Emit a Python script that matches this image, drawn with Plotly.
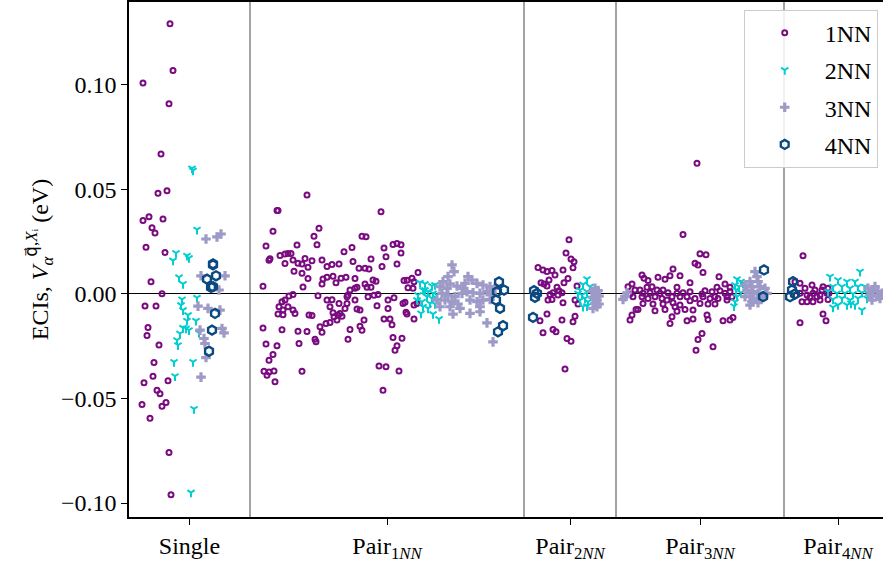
import plotly.graph_objects as go

# ---------------- data ----------------
categories = ["Single", "Pair<sub>1<i>NN</i></sub>", "Pair<sub>2<i>NN</i></sub>",
              "Pair<sub>3<i>NN</i></sub>", "Pair<sub>4<i>NN</i></sub>"]
group_edges = [0, 121, 395, 487, 655, 763]   # ECI index boundaries of each group
series_names = ["1NN", "2NN", "3NN", "4NN"]

# (ECI index, value in eV)
eci_1nn = [
    # Single
    (41, 0.1293), (44, 0.1069), (14, 0.1010), (40, 0.0910), (32, 0.0670), (29, 0.0482), (38, 0.0494),
    (14, 0.0351), (20, 0.0369), (34, 0.0359), (23, 0.0317), (26, 0.0292), (17, 0.0224), (36, 0.0198),
    (22, 0.0058), (33, 0.0001), (16, -0.0058), (27, -0.0058), (19, -0.0160), (18, -0.0199), (30, -0.0244),
    (25, -0.0328), (24, -0.0393), (15, -0.0425), (39, -0.0415), (28, -0.0460), (31, -0.0477), (13, -0.0529),
    (37, -0.0519), (33, -0.0537), (21, -0.0595), (40, -0.0758), (42, -0.0960),
    # Pair 1NN
    (178, 0.0474), (148, 0.0399), (149, 0.0399), (252, 0.0393), (144, 0.0300), (190, 0.0314), (185, 0.0276),
    (188, 0.0236), (233, 0.0276), (237, 0.0274), (137, 0.0229), (168, 0.0234), (264, 0.0237), (268, 0.0242),
    (272, 0.0236), (255, 0.0220), (215, 0.0202), (223, 0.0223), (272, 0.0196), (151, 0.0184), (156, 0.0191),
    (159, 0.0194), (162, 0.0194), (141, 0.0168), (140, 0.0162), (164, 0.0163), (169, 0.0147), (173, 0.0144),
    (176, 0.0170), (183, 0.0159), (179, 0.0128), (193, 0.0163), (198, 0.0131), (203, 0.0141), (210, 0.0143),
    (224, 0.0155), (242, 0.0167), (257, 0.0178), (268, 0.0144), (253, 0.0131), (230, 0.0123), (236, 0.0123),
    (240, 0.0120), (156, 0.0146), (165, 0.0109), (173, 0.0099), (179, 0.0074), (194, 0.0072), (198, 0.0080),
    (204, 0.0085), (212, 0.0075), (217, 0.0080), (226, 0.0074), (244, 0.0067), (247, 0.0061), (289, 0.0103),
    (275, 0.0064), (278, 0.0066), (283, 0.0075), (285, 0.0059), (134, 0.0037), (174, 0.0034), (193, 0.0048),
    (207, 0.0054), (189, -0.0008), (236, 0.0048), (238, 0.0032), (242, 0.0032), (221, 0.0019), (226, 0.0027),
    (228, 0.0032), (219, -0.0005), (218, -0.0013), (198, -0.0029), (203, -0.0027), (210, -0.0045),
    (218, -0.0045), (226, -0.0029), (239, -0.0013), (245, -0.0006), (249, -0.0003), (259, -0.0029),
    (265, -0.0018), (274, -0.0045), (276, -0.0040), (279, 0.0030), (284, 0.0027), (153, -0.0037),
    (156, -0.0029), (160, -0.0010), (164, -0.0003), (150, -0.0061), (154, -0.0077), (159, -0.0061),
    (164, -0.0077), (166, -0.0093), (201, -0.0061), (216, -0.0069), (211, -0.0093), (204, -0.0090),
    (209, -0.0101), (205, -0.0109), (228, -0.0072), (231, -0.0077), (248, -0.0056), (259, -0.0069),
    (277, -0.0087), (278, -0.0096), (285, -0.0053), (288, -0.0046), (149, -0.0096), (154, -0.0099),
    (180, -0.0101), (183, -0.0103), (208, -0.0125), (213, -0.0106), (235, -0.0125), (255, -0.0120),
    (261, -0.0120), (263, -0.0147), (285, -0.0120), (134, -0.0163), (153, -0.0171), (169, -0.0178),
    (178, -0.0179), (191, -0.0157), (193, -0.0183), (197, -0.0141), (201, -0.0136), (221, -0.0170),
    (231, -0.0154), (233, -0.0173), (264, -0.0208), (273, -0.0212), (219, -0.0216), (186, -0.0216),
    (187, -0.0229), (137, -0.0239), (148, -0.0248), (170, -0.0237), (268, -0.0248), (266, -0.0269),
    (144, -0.0290), (140, -0.0317), (135, -0.0370), (138, -0.0389), (140, -0.0373), (145, -0.0369),
    (173, -0.0370), (146, -0.0420), (250, -0.0345), (257, -0.0348), (270, -0.0369), (254, -0.0460),
    # Pair 2NN
    (440, 0.0260), (437, 0.0196), (442, 0.0167), (445, 0.0154), (444, 0.0125), (409, 0.0127), (414, 0.0115),
    (418, 0.0107), (423, 0.0112), (434, 0.0115), (426, 0.0091), (420, 0.0067), (439, 0.0074), (435, 0.0054),
    (412, 0.0054), (415, 0.0048), (418, 0.0038), (428, 0.0032), (430, 0.0016), (433, 0.0006), (424, 0.0006),
    (421, -0.0003), (419, -0.0029), (423, -0.0026), (429, -0.0005), (448, 0.0038), (446, -0.0029),
    (449, -0.0048), (434, -0.0042), (418, -0.0096), (411, -0.0128), (433, -0.0125), (446, -0.0106),
    (444, -0.0133), (414, -0.0186), (424, -0.0170), (427, -0.0181), (438, -0.0213), (442, -0.0226),
    (436, -0.0359),
    # Pair 3NN
    (568, 0.0625), (554, 0.0285), (571, 0.0192), (577, 0.0188), (566, 0.0147), (569, 0.0139), (574, 0.0103),
    (544, 0.0119), (551, 0.0087), (513, 0.0091), (515, 0.0075), (519, 0.0064), (529, 0.0080), (536, 0.0071),
    (541, 0.0087), (561, 0.0054), (548, 0.0032), (590, 0.0083), (596, 0.0048), (588, 0.0032), (601, 0.0032),
    (503, 0.0048), (499, 0.0035), (506, 0.0019), (511, 0.0019), (518, 0.0032), (523, 0.0035), (528, 0.0019),
    (534, 0.0019), (539, 0.0006), (548, 0.0003), (554, 0.0006), (561, 0.0011), (576, 0.0016), (583, 0.0011),
    (591, 0.0016), (596, 0.0003), (601, 0.0011), (504, -0.0013), (513, -0.0013), (519, -0.0021),
    (526, -0.0013), (533, -0.0021), (538, -0.0029), (543, -0.0013), (551, -0.0013), (558, -0.0013),
    (566, -0.0021), (574, -0.0013), (581, -0.0021), (589, -0.0021), (598, -0.0013), (603, -0.0013),
    (514, -0.0045), (524, -0.0048), (534, -0.0048), (544, -0.0042), (551, -0.0053), (561, -0.0032),
    (571, -0.0045), (579, -0.0048), (586, -0.0048), (509, -0.0074), (526, -0.0080), (536, -0.0074),
    (548, -0.0083), (556, -0.0074), (564, -0.0077), (578, -0.0101), (543, -0.0109), (541, -0.0141),
    (558, -0.0128), (564, -0.0120), (579, -0.0122), (594, -0.0128), (601, -0.0125), (604, -0.0112),
    (501, -0.0125), (503, -0.0101), (507, -0.0074), (573, -0.0189), (569, -0.0218), (567, -0.0269),
    (584, -0.0253), (501, 0.0000), (514, 0.0003), (521, 0.0006), (531, 0.0003), (573, 0.0000),
    (586, -0.0013), (598, -0.0029), (546, -0.0061),
    # Pair 4NN
    (674, 0.0183), (666, 0.0059), (671, 0.0051), (676, 0.0027), (683, 0.0043), (686, 0.0019), (693, 0.0019),
    (694, 0.0035), (699, 0.0027), (671, 0.0003), (678, -0.0005), (684, 0.0003), (691, -0.0005), (698, 0.0003),
    (673, -0.0037), (678, -0.0037), (684, -0.0037), (691, -0.0029), (699, -0.0026), (700, 0.0003),
    (694, -0.0096), (697, -0.0128), (671, -0.0138), (681, -0.0013), (688, -0.0013),
]

eci_2nn = [
    # Single
    (63, 0.0601), (64, 0.0591), (68, 0.0308), (47, 0.0196), (44, 0.0160), (58, 0.0183), (60, 0.0172),
    (50, 0.0080), (54, 0.0048), (53, -0.0026), (68, -0.0018), (52, -0.0053), (54, -0.0077), (59, -0.0101),
    (58, -0.0128), (67, -0.0128), (54, -0.0162), (57, -0.0165), (60, -0.0173), (51, -0.0189), (48, -0.0221),
    (49, -0.0245), (70, -0.0186), (45, -0.0325), (64, -0.0325), (46, -0.0393), (65, -0.0550), (62, -0.0950),
    # Pair 1NN
    (291, 0.0054), (296, 0.0048), (303, 0.0038), (306, 0.0043), (294, 0.0019), (299, 0.0011), (304, 0.0003),
    (289, -0.0005), (298, -0.0013), (303, -0.0021), (308, -0.0005), (293, -0.0037), (301, -0.0045),
    (306, -0.0048), (309, -0.0029), (294, -0.0061), (299, -0.0069), (292, -0.0093), (310, -0.0120),
    (304, -0.0096), (288, -0.0029), (296, 0.0019),
    # Pair 2NN
    (458, 0.0071), (454, 0.0045), (461, 0.0035), (451, 0.0019), (458, 0.0011), (463, 0.0003), (453, -0.0005),
    (456, -0.0021), (459, -0.0037), (451, -0.0029), (458, -0.0058), (454, -0.0061), (449, 0.0003),
    # Pair 3NN
    (608, 0.0071), (612, 0.0059), (606, 0.0043), (610, 0.0035), (614, 0.0051), (607, 0.0019), (612, 0.0006),
    (608, -0.0013), (606, -0.0037), (605, -0.0058),
    # Pair 4NN
    (731, 0.0107), (701, 0.0083), (709, 0.0067), (718, 0.0059), (726, 0.0059), (704, 0.0035), (713, 0.0035),
    (721, 0.0027), (729, 0.0035), (736, 0.0035), (699, 0.0011), (708, 0.0003), (716, 0.0003), (724, 0.0000),
    (733, 0.0006), (704, -0.0026), (713, -0.0021), (721, -0.0029), (729, -0.0021), (738, -0.0021),
    (709, -0.0053), (718, -0.0053), (726, -0.0053), (733, -0.0077), (704, -0.0064), (722, -0.0045),
    (739, 0.0003),
]

eci_3nn = [
    # Single
    (77, 0.0263), (88, 0.0273), (92, 0.0287), (72, 0.0087), (96, 0.0087), (90, 0.0019), (69, -0.0058),
    (79, -0.0069), (91, -0.0077), (71, -0.0173), (93, -0.0165), (95, -0.0186), (75, -0.0213), (76, -0.0237),
    (77, -0.0304), (72, -0.0398),
    # Pair 1NN
    (323, 0.0139), (325, 0.0107), (319, 0.0083), (314, 0.0059), (311, 0.0035), (318, 0.0027), (321, 0.0048),
    (328, 0.0038), (334, 0.0027), (339, 0.0083), (343, 0.0067), (348, 0.0051), (354, 0.0043), (361, 0.0035),
    (366, 0.0027), (313, 0.0003), (319, -0.0005), (326, -0.0013), (333, 0.0003), (338, 0.0011), (344, 0.0006),
    (351, 0.0003), (358, 0.0011), (363, 0.0000), (316, -0.0029), (323, -0.0037), (329, -0.0048),
    (341, -0.0029), (348, -0.0037), (354, -0.0029), (361, -0.0026), (311, -0.0061), (321, -0.0061),
    (331, -0.0069), (351, -0.0061), (324, -0.0096), (341, -0.0093), (358, -0.0138), (364, -0.0229),
    (336, 0.0051), (308, -0.0029), (351, -0.0085),
    # Pair 2NN
    (466, 0.0027), (469, 0.0016), (463, 0.0011), (467, 0.0000), (470, -0.0010), (464, -0.0016),
    (468, -0.0029), (466, -0.0045), (470, -0.0048), (464, -0.0069), (468, -0.0061),
    # Pair 3NN
    (626, 0.0107), (628, 0.0083), (621, 0.0059), (629, 0.0059), (616, 0.0043), (623, 0.0035), (631, 0.0035),
    (636, 0.0027), (618, 0.0019), (624, 0.0011), (629, 0.0003), (621, -0.0013), (628, -0.0021),
    (634, -0.0013), (616, -0.0013), (623, -0.0037), (629, -0.0042), (621, -0.0053), (638, 0.0003),
    (496, -0.0013), (498, 0.0006), (494, -0.0026),
    # Pair 4NN
    (739, 0.0027), (744, 0.0019), (749, 0.0011), (741, -0.0005), (748, -0.0010), (753, 0.0003),
    (743, -0.0029), (751, -0.0021), (746, 0.0035),
]

eci_4nn = [
    # Single
    (84, 0.0144), (84, 0.0139), (78, 0.0071), (87, 0.0087), (82, 0.0032), (84, 0.0035), (86, -0.0093),
    (83, -0.0173), (80, -0.0274),
    # Pair 1NN
    (370, 0.0058), (375, 0.0019), (368, 0.0011), (367, -0.0029), (371, -0.0069), (374, -0.0152),
    (369, -0.0181),
    # Pair 2NN
    (405, 0.0016), (406, -0.0016), (404, -0.0112), (408, 0.0003),
    # Pair 3NN
    (635, 0.0115), (634, -0.0013),
    # Pair 4NN
    (664, 0.0059), (663, 0.0019), (666, 0.0000), (661, -0.0013),
]

# ---------------- styles ----------------
FONT = "Liberation Serif, Times New Roman, serif"
styles = [
    dict(symbol="circle-open", size=5, color="#7a0a80", line=dict(width=2, color="#7a0a80")),
    dict(symbol="y-down-open", size=6, color="#00ced1", line=dict(width=2, color="#00ced1")),
    dict(symbol="cross", size=8, color="#9e9ac8", line=dict(width=0)),
    dict(symbol="hexagon-open", size=9, color="#0b4a80", line=dict(width=2.4, color="#0b4a80")),
]
all_series = [eci_1nn, eci_2nn, eci_3nn, eci_4nn]

fig = go.Figure()
for name, pts, st in zip(series_names, all_series, styles):
    fig.add_trace(go.Scatter(
        x=[p[0] for p in pts], y=[p[1] for p in pts],
        mode="markers", name=name, marker=st, legendgroup=name,
    ))

tick_vals = [(a + b) / 2 for a, b in zip(group_edges[:-1], group_edges[1:])]

for edge in group_edges[1:-1]:
    fig.add_shape(type="line", xref="x", yref="paper", x0=edge, x1=edge, y0=0, y1=1,
                  line=dict(color="#666666", width=1.2), layer="below")

y_title = ("ECIs, <i>V</i><sub><i>α</i></sub>"
           "<sup><span style='font-family:DejaVu Sans'>q\u20d7</span>,<i>X</i>ᵢ</sup> (eV)")

fig.update_layout(
    width=883, height=565,
    margin=dict(l=129, r=0, t=2, b=48),
    paper_bgcolor="white", plot_bgcolor="white",
    font=dict(family=FONT, size=24, color="black"),
    showlegend=True,
    legend=dict(x=0.993, y=0.985, xanchor="right", yanchor="top",
                bgcolor="rgba(255,255,255,0.85)", bordercolor="#cccccc", borderwidth=1,
                font=dict(size=24), itemwidth=70, tracegroupgap=3, traceorder="grouped"),
    xaxis=dict(range=[0, 754], tickmode="array", tickvals=tick_vals, ticktext=categories,
               showgrid=False, zeroline=False, showline=True, linecolor="black", linewidth=1.5,
               mirror=True, ticks="outside", ticklen=6, tickwidth=1.2, tickcolor="black"),
    yaxis=dict(range=[-0.1067, 0.1397], tickmode="array",
               tickvals=[-0.10, -0.05, 0.0, 0.05, 0.10], tickformat=".2f",
               showgrid=False, zeroline=True, zerolinecolor="black", zerolinewidth=1,
               showline=True, linecolor="black", linewidth=1.5, mirror=False,
               ticks="outside", ticklen=6, tickwidth=1.2, tickcolor="black",
               title=dict(text=y_title, font=dict(size=24), standoff=6)),
)

fig.write_html("out.html")
